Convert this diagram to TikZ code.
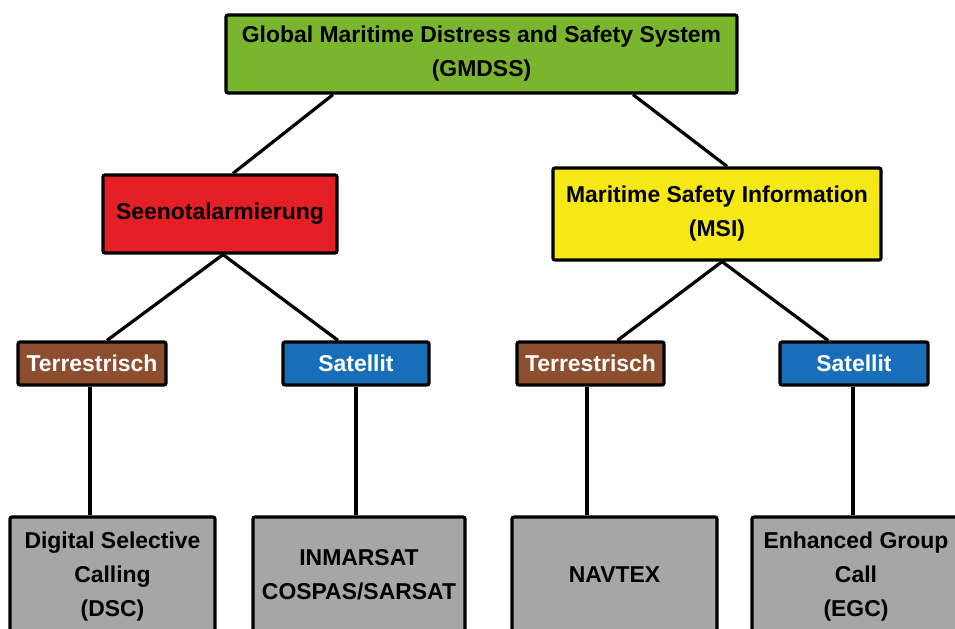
\documentclass[tikz,border=0pt]{standalone}
\usepackage{fontspec}
\setmainfont{Liberation Sans}
\usetikzlibrary{calc}
\definecolor{gGreen}{RGB}{122,181,46}
\definecolor{gRed}{RGB}{228,32,38}
\definecolor{gYellow}{RGB}{246,232,22}
\definecolor{gBrown}{RGB}{140,78,46}
\definecolor{gBlue}{RGB}{24,110,184}
\definecolor{gGray}{RGB}{166,166,166}
\tikzset{
  lbl/.style={align=center, inner sep=0pt, font=\fontsize{17.2}{25.5}\selectfont\bfseries},
  box/.style={lbl, draw=black, line width=2.4pt, rounded corners=1.5pt},
  conn/.style={draw=black, line width=2.4pt},
}
\begin{document}
\begin{tikzpicture}[x=0.75pt,y=-0.75pt]
\useasboundingbox (0,0) rectangle (955,628);
\fill[white] (0,0) rectangle (955,628);
\clip (0,0) rectangle (955,628);
% nodes
\node[box, fill=gGreen, minimum width=511*0.75pt, minimum height=78*0.75pt] (top) at (481.5,54)
  {Global Maritime Distress and Safety System\\(GMDSS)};
\node[box, fill=gRed, minimum width=234*0.75pt, minimum height=78*0.75pt] (seeno) at (220,214)
  {Seenotalarmierung};
\node[box, fill=gYellow, minimum width=328*0.75pt, minimum height=92*0.75pt] (msi) at (717,214)
  {Maritime Safety Information\\(MSI)};
\node[box, fill=gBrown, text=white, minimum width=148*0.75pt, minimum height=43*0.75pt] (t1) at (92,363.5)
  {Terrestrisch};
\node[box, fill=gBlue, text=white, minimum width=146*0.75pt, minimum height=43*0.75pt] (s1) at (356,363.5)
  {Satellit};
\node[box, fill=gBrown, text=white, minimum width=147*0.75pt, minimum height=43*0.75pt] (t2) at (590.5,363.5)
  {Terrestrisch};
\node[box, fill=gBlue, text=white, minimum width=148*0.75pt, minimum height=43*0.75pt] (s2) at (854,363.5)
  {Satellit};
\node[box, fill=gGray, minimum width=205*0.75pt, minimum height=123*0.75pt] (dsc) at (112.5,578.5) {};
\node[lbl] (dsct) at (112.5,577)
  {Digital Selective\\Calling\\(DSC)};
\node[box, fill=gGray, minimum width=212*0.75pt, minimum height=123*0.75pt] (inm) at (359,578.5) {};
\node[lbl] (inmt) at (359,575)
  {INMARSAT\\COSPAS/SARSAT};
\node[box, fill=gGray, minimum width=205*0.75pt, minimum height=123*0.75pt] (nav) at (614.5,578.5) {};
\node[lbl] (navt) at (614.5,575)
  {NAVTEX};
\node[box, fill=gGray, minimum width=208*0.75pt, minimum height=123*0.75pt] (egc) at (856,578.5) {};
\node[lbl] (egct) at (856,577)
  {Enhanced Group\\Call\\(EGC)};
% connectors
\draw[conn] ($(top.south)+(-148.5,0)$) -- ($(seeno.north)+(13,0)$);
\draw[conn] ($(top.south)+(151.5,0)$) -- ($(msi.north)+(10,0)$);
\draw[conn] ($(seeno.south)+(3,0)$) -- ($(t1.north)+(15,0)$);
\draw[conn] ($(seeno.south)+(3,0)$) -- ($(s1.north)+(-18,0)$);
\draw[conn] ($(msi.south)+(5,0)$) -- ($(t2.north)+(27,0)$);
\draw[conn] ($(msi.south)+(5,0)$) -- ($(s2.north)+(-26,0)$);
\draw[conn] ($(t1.south)+(-2,0)$) -- ($(dsc.north)+(-22.5,0)$);
\draw[conn] (s1.south) -- ($(inm.north)+(-3,0)$);
\draw[conn] ($(t2.south)+(-3.5,0)$) -- ($(nav.north)+(-27.5,0)$);
\draw[conn] ($(s2.south)+(-1,0)$) -- ($(egc.north)+(-3,0)$);
\end{tikzpicture}
\end{document}
